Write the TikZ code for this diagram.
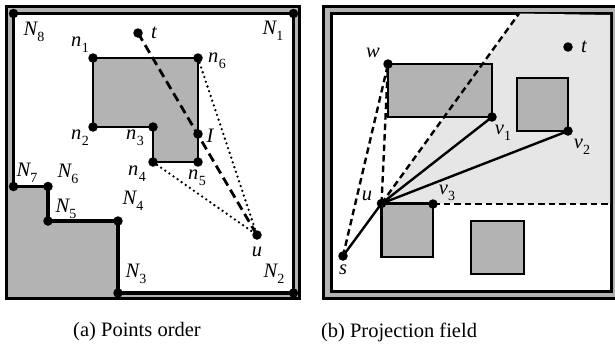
\documentclass[tikz,border=0pt]{standalone}
\usepackage{fontspec}
\setmainfont{Liberation Serif}
\definecolor{obgray}{HTML}{B3B3B3}
\definecolor{fieldgray}{HTML}{E6E6E6}
% italic letter with an upright subscript
\newcommand{\sublab}[2]{\textit{#1}\kern0.3pt\raisebox{-0.3em}{\fontsize{14}{14}\selectfont\upshape #2}}
\tikzset{
  wall/.style={line width=3.2pt},
  obst/.style={draw, line width=2.5pt, fill=obgray, line join=miter},
  pt/.style={circle, fill=black, inner sep=0pt, minimum size=9.5pt},
  lab/.style={font=\fontsize{20.5}{21}\selectfont\itshape, inner sep=0pt},
  captext/.style={font=\fontsize{20.5}{22}\selectfont, inner sep=0pt},
  bigdash/.style={line width=2.8pt, dash pattern=on 9pt off 5pt},
  fine dots/.style={line width=2.6pt, line cap=round, dash pattern=on 0pt off 5pt},
  rdash/.style={line width=2.4pt, dash pattern=on 6.5pt off 4pt},
  ray/.style={line width=2.4pt},
}
\begin{document}
\begin{tikzpicture}[x=1pt, y=-1pt]
\useasboundingbox (0,0) rectangle (615,346);

% ---------- (a) points order ----------
\coordinate (N1) at (293.5,13.5);
\coordinate (N2) at (293.5,293);
\coordinate (N3) at (118,293);
\coordinate (N4) at (118,221);
\coordinate (N5) at (48,221);
\coordinate (N6) at (48,186.5);
\coordinate (N7) at (13.5,186.5);
\coordinate (N8) at (13.5,13.5);
\coordinate (n1) at (93,58);
\coordinate (n6) at (198,58);
\coordinate (n5) at (198,162);
\coordinate (n4) at (153,162);
\coordinate (n3) at (153,127);
\coordinate (n2) at (93,127);
\coordinate (t) at (138,33);
\coordinate (u) at (257,235);
\coordinate (I) at (198,134);

\fill[obgray] (6.5,6.5) rectangle (299.5,298.5);
\draw[wall] (6.5,6.5) rectangle (299.5,298.5);
\filldraw[fill=white, wall, line join=miter]
  (N1) -- (N2) -- (N3) -- (N4) -- (N5) -- (N6) -- (N7) -- (N8) -- cycle;
\filldraw[obst] (n1) -- (n6) -- (n5) -- (n4) -- (n3) -- (n2) -- cycle;

\draw[bigdash] (t) -- (u);
\draw[fine dots] (n6) -- (u);
\draw[fine dots] (n4) -- (u);

\foreach \p in {N1,N2,N3,N4,N5,N6,N7,N8,n1,n2,n3,n4,n5,n6,t,u,I}
  \node[pt] (d\p) at (\p) {};

\node[lab] (lN8) at (34,32) {\sublab{N}{8}};
\node[lab] (lN1) at (273,31) {\sublab{N}{1}};
\node[lab] (lN2) at (274,274) {\sublab{N}{2}};
\node[lab] (lN3) at (136,274) {\sublab{N}{3}};
\node[lab] (lN4) at (133,201) {\sublab{N}{4}};
\node[lab] (lN5) at (66,209) {\sublab{N}{5}};
\node[lab] (lN6) at (68,174) {\sublab{N}{6}};
\node[lab] (lN7) at (27,173) {\sublab{N}{7}};
\node[lab] (ln1) at (80,45) {\sublab{n}{1}};
\node[lab] (ln2) at (80,138) {\sublab{n}{2}};
\node[lab] (ln3) at (135,138) {\sublab{n}{3}};
\node[lab] (ln4) at (137,174) {\sublab{n}{4}};
\node[lab] (ln5) at (197,178) {\sublab{n}{5}};
\node[lab] (ln6) at (217,61) {\sublab{n}{6}};
\node[lab] (lI) at (210,136) {I};
\node[lab] (lt) at (154,33) {t};
\node[lab] (lu) at (257,252) {u};

% ---------- (b) projection field ----------
\coordinate (w) at (388,64);
\coordinate (s) at (343,256);
\coordinate (bu) at (381.5,203.5);
\coordinate (v1) at (492,117);
\coordinate (v2) at (568,131);
\coordinate (v3) at (433,204);
\coordinate (bt) at (568,47);
\coordinate (top) at (519,13.5);
\coordinate (edge) at (611.5,204);

\fill[obgray] (323.5,6.5) rectangle (618,298.5);
\draw[wall] (323.5,6.5) rectangle (618,298.5);
\filldraw[fill=white, wall] (331.5,13.5) rectangle (611.5,291.5);
\fill[fieldgray] (bu) -- (top) -- (610,15) -- (610,204) -- cycle;

\filldraw[obst] (388,64) rectangle (492,117);
\filldraw[obst] (517,78) rectangle (568,131);
\filldraw[obst] (381.5,203.5) rectangle (433,257);
\filldraw[obst] (471,221) rectangle (524,274);

\draw[rdash] (s) -- (w);
\draw[rdash] (bu) -- (w);
\draw[rdash] (bu) -- (top);
\draw[rdash] (v3) -- (edge);
\draw[ray] (s) -- (bu);
\draw[ray] (bu) -- (v1);
\draw[ray] (bu) -- (v2);

\foreach \p in {w,s,bu,v1,v2,v3,bt}
  \node[pt] (d\p) at (\p) {};

\node[lab] (lw) at (373,53) {w};
\node[lab] (lbt) at (584,47) {t};
\node[lab] (lv1) at (503,133) {\sublab{v}{1}};
\node[lab] (lv2) at (582,147) {\sublab{v}{2}};
\node[lab] (lv3) at (447,193) {\sublab{v}{3}};
\node[lab] (lbu) at (367,196) {u};
\node[lab] (ls) at (343,270) {s};

% ---------- captions ----------
\node[captext] (capa) at (137,332) {(a) Points order};
\node[captext] (capb) at (399,332) {(b) Projection field};
\end{tikzpicture}
\end{document}
